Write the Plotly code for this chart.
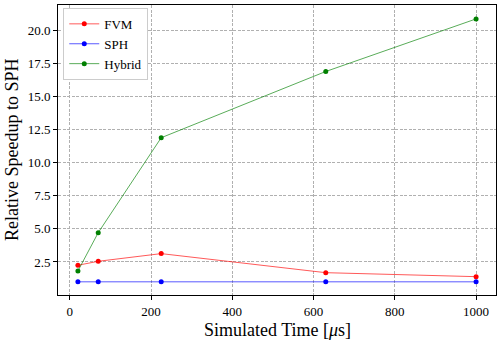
import plotly.graph_objects as go

sim_time = [20, 70, 225, 630, 1000]
fvm = [2.25, 2.55, 3.13, 1.69, 1.39]
sph = [1.0, 1.0, 1.0, 1.0, 1.0]
hybrid = [1.82, 4.71, 11.88, 16.88, 20.85]

series = [("FVM", fvm, "rgba(255,0,0,0.65)", "red"),
          ("SPH", sph, "rgba(0,0,255,0.65)", "blue"),
          ("Hybrid", hybrid, "rgba(0,128,0,0.65)", "green")]

fig = go.Figure()
for name, vals, lc, mc in series:
    fig.add_trace(go.Scatter(x=sim_time, y=vals, name=name, mode="lines+markers",
                             line=dict(color=lc, width=1),
                             marker=dict(color=mc, size=5)))

font = "Liberation Serif, Times New Roman, serif"
L, R, T, B = 58, 2, 5, 49
fig.update_layout(
    width=498, height=344,
    margin=dict(l=L, r=R, t=T, b=B, autoexpand=False),
    paper_bgcolor="white", plot_bgcolor="white",
    font=dict(family=font, size=13, color="black"),
    showlegend=True,
    legend=dict(x=0.012, y=0.99, xanchor="left", yanchor="top",
                bgcolor="white", bordercolor="#cccccc", borderwidth=1,
                font=dict(size=13), itemwidth=30, tracegroupgap=0),
    annotations=[
        dict(text="Simulated Time [<i>μ</i>s]", xref="paper", yref="paper",
             x=0.5, y=-0.12, xanchor="center", yanchor="middle", showarrow=False,
             font=dict(size=18)),
        dict(text="Relative Speedup to SPH", xref="paper", yref="paper",
             x=-0.105, y=0.5, xanchor="center", yanchor="middle", showarrow=False,
             textangle=-90, font=dict(size=18)),
    ],
)
grid = dict(showgrid=True, gridcolor="#b0b0b0", griddash="3px,1.5px", gridwidth=1,
            showline=True, linecolor="black", linewidth=1, mirror=True,
            ticks="outside", ticklen=4, tickcolor="black", zeroline=False,
            automargin=False)
fig.update_xaxes(range=[-29, 1049], tickvals=[0, 200, 400, 600, 800, 1000], **grid)
fig.update_yaxes(range=[0.005, 21.9], tickvals=[2.5, 5, 7.5, 10, 12.5, 15, 17.5, 20],
                 tickformat=".1f", **grid)
fig.write_html("out.html", config={"displayModeBar": False},
               post_script="document.body.style.margin='0';")
